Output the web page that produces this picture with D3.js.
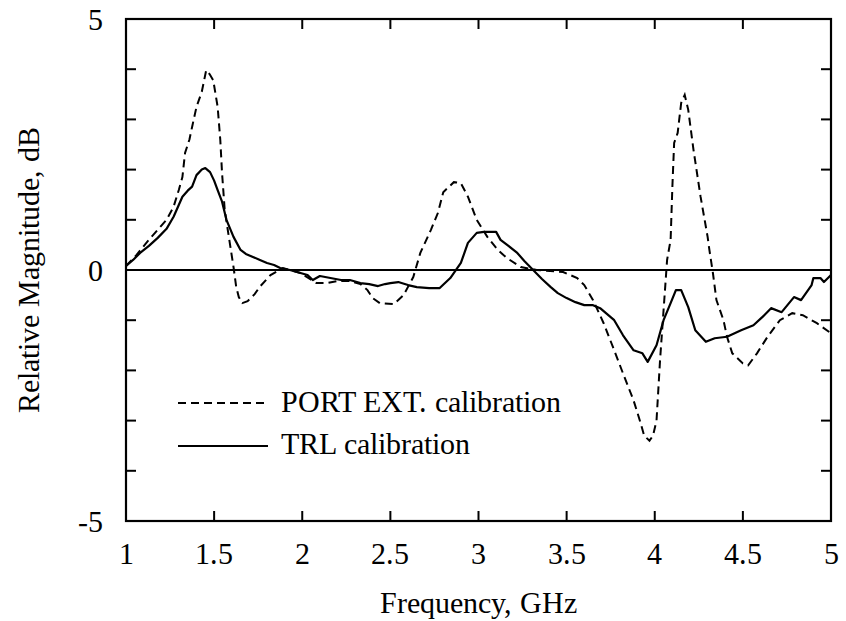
<!DOCTYPE html>
<html>
<head>
<meta charset="utf-8">
<script src="https://cdn.jsdelivr.net/npm/d3@7"></script>
<style>
  @font-face { font-family: "ChartSerif"; src: local("Liberation Serif"), local("LiberationSerif"), local("LiberationSerif-Regular"), local("Tinos"), local("Times New Roman"); }
  html, body { margin: 0; padding: 0; background: #fff; }
  svg { display: block; }
</style>
</head>
<body>
<svg id="chart" width="846" height="621"></svg>
<script>
// ---- data ----
const xTicks = [1, 1.5, 2, 2.5, 3, 3.5, 4, 4.5, 5];
const xTickLabels = ["1", "1.5", "2", "2.5", "3", "3.5", "4", "4.5", "5"];
const yTicks = [-5, -4, -3, -2, -1, 0, 1, 2, 3, 4, 5];
const yTickLabels = [-5, 0, 5];
const seriesNames = ["PORT EXT. calibration", "TRL calibration"];

// PORT EXT. calibration (dashed): [frequency GHz, relative magnitude dB]
const portExtData = [
  [1.00,0.08],[1.06,0.30],[1.12,0.56],[1.19,0.84],[1.23,1.00],[1.27,1.26],[1.30,1.60],[1.32,1.85],
  [1.335,2.33],[1.36,2.60],[1.375,2.85],[1.40,3.25],[1.43,3.55],[1.455,3.98],[1.475,3.90],[1.495,3.78],
  [1.52,3.25],[1.535,2.59],[1.545,1.93],[1.56,1.20],[1.58,0.74],[1.61,0.06],[1.625,-0.33],[1.64,-0.54],
  [1.66,-0.66],[1.69,-0.62],[1.73,-0.48],[1.76,-0.33],[1.82,-0.10],[1.89,0.04],[1.99,-0.06],[2.08,-0.26],
  [2.14,-0.26],[2.20,-0.22],[2.27,-0.22],[2.33,-0.28],[2.37,-0.40],[2.40,-0.56],[2.44,-0.66],[2.52,-0.68],
  [2.575,-0.50],[2.63,-0.14],[2.67,0.34],[2.73,0.80],[2.77,1.14],[2.80,1.55],[2.86,1.75],[2.90,1.73],
  [2.94,1.46],[2.99,1.00],[3.05,0.66],[3.11,0.40],[3.16,0.24],[3.24,0.06],[3.33,0.00],[3.48,-0.04],
  [3.56,-0.16],[3.60,-0.30],[3.65,-0.60],[3.71,-1.06],[3.77,-1.60],[3.82,-2.06],[3.88,-2.60],[3.92,-3.05],
  [3.94,-3.30],[3.97,-3.40],[3.99,-3.30],[4.01,-3.00],[4.03,-1.80],[4.05,-0.80],[4.07,0.20],[4.09,0.60],
  [4.10,1.66],[4.11,2.53],[4.13,2.73],[4.15,3.33],[4.17,3.49],[4.19,3.19],[4.22,2.39],[4.26,1.46],
  [4.30,0.66],[4.31,0.40],[4.33,-0.06],[4.35,-0.60],[4.39,-1.00],[4.41,-1.33],[4.44,-1.66],[4.50,-1.86],
  [4.53,-1.90],[4.58,-1.66],[4.64,-1.33],[4.71,-1.00],[4.78,-0.86],[4.84,-0.90],[4.92,-1.06],[5.00,-1.26]
];

// TRL calibration (solid)
const trlData = [
  [1.00,0.08],[1.04,0.20],[1.08,0.34],[1.13,0.48],[1.18,0.64],[1.23,0.82],[1.27,1.06],[1.32,1.46],
  [1.35,1.58],[1.375,1.66],[1.40,1.89],[1.43,2.00],[1.45,2.03],[1.477,1.95],[1.50,1.78],[1.52,1.59],
  [1.545,1.36],[1.57,1.00],[1.61,0.66],[1.65,0.40],[1.68,0.32],[1.72,0.26],[1.76,0.20],[1.80,0.14],
  [1.84,0.10],[1.875,0.04],[1.93,0.00],[1.99,-0.06],[2.03,-0.10],[2.06,-0.20],[2.10,-0.12],[2.16,-0.16],
  [2.22,-0.20],[2.27,-0.20],[2.33,-0.26],[2.38,-0.28],[2.43,-0.32],[2.47,-0.28],[2.50,-0.26],[2.545,-0.24],
  [2.60,-0.30],[2.65,-0.34],[2.72,-0.36],[2.78,-0.36],[2.84,-0.16],[2.90,0.14],[2.94,0.54],[2.99,0.74],
  [3.03,0.76],[3.10,0.76],[3.125,0.60],[3.17,0.48],[3.22,0.34],[3.26,0.18],[3.31,0.00],[3.36,-0.18],
  [3.41,-0.34],[3.45,-0.46],[3.50,-0.56],[3.55,-0.64],[3.60,-0.70],[3.65,-0.70],[3.69,-0.76],[3.73,-0.88],
  [3.77,-1.00],[3.82,-1.30],[3.85,-1.45],[3.88,-1.60],[3.93,-1.66],[3.96,-1.83],[4.01,-1.50],[4.05,-1.00],
  [4.09,-0.66],[4.12,-0.40],[4.15,-0.40],[4.19,-0.74],[4.23,-1.20],[4.29,-1.43],[4.34,-1.36],[4.41,-1.33],
  [4.49,-1.20],[4.56,-1.10],[4.61,-0.94],[4.66,-0.76],[4.72,-0.84],[4.79,-0.54],[4.83,-0.60],[4.89,-0.30],
  [4.90,-0.16],[4.94,-0.16],[4.96,-0.24],[5.00,-0.10]
];

// ---- drawing ----
const svg = d3.select("#chart");
const m = { left: 126, right: 831, top: 19, bottom: 521 };
const font = 30;
const FAMILY = "ChartSerif, Liberation Serif, serif";

const x = d3.scaleLinear().domain([1, 5]).range([m.left, m.right]);
const y = d3.scaleLinear().domain([-5, 5]).range([m.bottom, m.top]);
const tickLen = 10;

const labels = [];
xTicks.forEach((d, i) => labels.push({ t: xTickLabels[i], x: x(d), y: 564, a: "middle" }));
yTickLabels.forEach(d => labels.push({ t: String(d), x: 103, y: y(d) + 11, a: "end" }));
labels.push({ t: "Frequency, GHz", x: (m.left + m.right) / 2, y: 613, a: "middle" });
seriesNames.forEach((d, i) => labels.push({ t: d, x: 281, y: [412, 454][i], a: "start" }));

svg.selectAll("text.lab").data(labels).join("text")
  .attr("class", "lab")
  .attr("x", d => d.x).attr("y", d => d.y)
  .attr("text-anchor", d => d.a)
  .attr("font-size", font)
  .style("font-family", FAMILY)
  .text(d => d.t);

svg.selectAll("text.ylab").data(["Relative Magnitude, dB"]).join("text")
  .attr("class", "ylab")
  .attr("transform", `translate(39,${y(0)}) rotate(-90)`)
  .attr("text-anchor", "middle")
  .attr("font-size", font)
  .style("font-family", FAMILY)
  .text(d => d);

// Inward ticks on all four sides (from the scales)
const ticks = svg.append("g").attr("stroke", "#000").attr("stroke-width", 2);
ticks.selectAll("line.xb").data(xTicks).join("line").attr("class", "xb")
  .attr("x1", d => x(d)).attr("x2", d => x(d)).attr("y1", m.bottom).attr("y2", m.bottom - tickLen);
ticks.selectAll("line.xt").data(xTicks).join("line").attr("class", "xt")
  .attr("x1", d => x(d)).attr("x2", d => x(d)).attr("y1", m.top).attr("y2", m.top + tickLen);
ticks.selectAll("line.yl").data(yTicks).join("line").attr("class", "yl")
  .attr("y1", d => y(d)).attr("y2", d => y(d)).attr("x1", m.left).attr("x2", m.left + tickLen);
ticks.selectAll("line.yr").data(yTicks).join("line").attr("class", "yr")
  .attr("y1", d => y(d)).attr("y2", d => y(d)).attr("x1", m.right).attr("x2", m.right - tickLen);

// Frame
svg.append("rect")
  .attr("x", m.left).attr("y", m.top)
  .attr("width", m.right - m.left).attr("height", m.bottom - m.top)
  .attr("fill", "none").attr("stroke", "#000").attr("stroke-width", 2.2);

// Zero line
svg.append("line")
  .attr("x1", x(1)).attr("x2", x(5)).attr("y1", y(0)).attr("y2", y(0))
  .attr("stroke", "#000").attr("stroke-width", 2);

// Lines
const line = d3.line().x(d => x(d[0])).y(d => y(d[1]));
svg.append("path").datum(portExtData)
  .attr("d", line).attr("fill", "none").attr("stroke", "#000")
  .attr("stroke-width", 2).attr("stroke-dasharray", "8,5");
svg.append("path").datum(trlData)
  .attr("d", line).attr("fill", "none").attr("stroke", "#000")
  .attr("stroke-width", 2.2).attr("stroke-linejoin", "round");

// Legend samples
const legLineY = [403, 446];
svg.append("line").attr("x1", 178).attr("x2", 268).attr("y1", legLineY[0]).attr("y2", legLineY[0])
  .attr("stroke", "#000").attr("stroke-width", 2).attr("stroke-dasharray", "8,5");
svg.append("line").attr("x1", 178).attr("x2", 268).attr("y1", legLineY[1]).attr("y2", legLineY[1])
  .attr("stroke", "#000").attr("stroke-width", 2.2);
</script>
</body>
</html>
